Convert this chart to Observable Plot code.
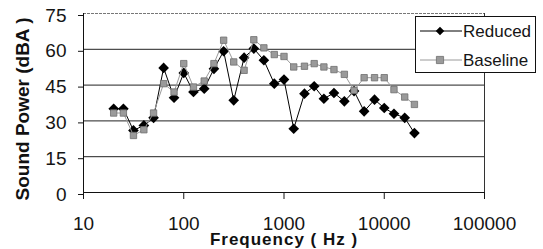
<!DOCTYPE html>
<html>
<head>
<meta charset="utf-8">
<script src="https://cdn.jsdelivr.net/npm/d3@7"></script>
<script src="https://cdn.jsdelivr.net/npm/@observablehq/plot@0.6"></script>
<style>
  html, body { margin: 0; padding: 0; background: #fff; }
  #wrap { position: relative; width: 543px; height: 249px; font-family: "Liberation Sans", Arial, sans-serif; }
  #legend { position: absolute; left: 415px; top: 16px; }
</style>
</head>
<body>
<div id="wrap"></div>
<script>
const freq = [20,25,31.5,40,50,63,80,100,125,160,200,250,315,400,500,630,800,1000,1250,1600,2000,2500,3150,4000,5000,6300,8000,10000,12500,16000,20000];
const reduced = [35.1,35.1,26,28.1,31.3,52.2,39.7,50.1,42.1,43.5,51.8,59.2,38.6,56.5,60.3,55.4,45.6,47.3,26.7,41.4,44.5,39.3,41.7,38.2,42.5,34,38.9,35.4,33,31.3,24.9];
const baseline = [33.3,33.3,23.9,26.3,33.3,45.6,42.1,54,44.2,46.7,54,63.8,54.7,51.2,64,60.6,57.8,57,52.6,52.9,54,52.6,51.5,49.5,42.8,48.1,48.1,48.1,43.1,40,36.9];
const xTicks = [10,100,1000,10000,100000];
const yTicks = [0,15,30,45,60,75];
const seriesNames = ["Reduced","Baseline"];
const xTitle = "Frequency ( Hz )";
const yTitle = "Sound Power (dBA )";

const redData = freq.map((f,i) => ({f, v: reduced[i]}));
const baseData = freq.map((f,i) => ({f, v: baseline[i]}));

const chart = Plot.plot({
  width: 543, height: 249,
  marginLeft: 83, marginRight: 59, marginTop: 13, marginBottom: 57,
  style: {fontFamily: "'Liberation Sans', Arial, sans-serif", fontSize: "19px", color: "#151515", background: "transparent"},
  x: {type: "log", domain: [10, 100000]},
  y: {domain: [0, 75]},
  marks: [
    Plot.ruleY(yTicks.filter(d => d > 0 && d < 75), {stroke: "#222", strokeWidth: 1}),
    Plot.ruleY([75], {stroke: "#777", strokeDasharray: "3,1"}),
    Plot.ruleX([100000], {stroke: "#333"}),
    Plot.ruleX([10], {stroke: "#111"}),
    Plot.ruleY([0], {stroke: "#111"}),
    Plot.axisX({ticks: xTicks, tickFormat: d => String(d), tickSize: 7, tickPadding: 17, label: null}),
    Plot.axisY({ticks: yTicks, tickSize: 5, tickPadding: 12, label: null, dy: 2}),
    Plot.line(redData, {x: "f", y: "v", stroke: "#000", strokeWidth: 1}),
    Plot.dot(redData, {x: "f", y: "v", symbol: "diamond2", r: 4.8, fill: "#000", stroke: "none"}),
    Plot.line(baseData, {x: "f", y: "v", stroke: "#9a9a9a", strokeWidth: 1}),
    Plot.dot(baseData, {x: "f", y: "v", symbol: "square", r: 3.6, fill: "#9a9a9a", stroke: "#6e6e6e", strokeWidth: 0.8}),
    Plot.text([xTitle], {frameAnchor: "bottom", textAnchor: "middle", lineAnchor: "middle", dy: 47, fontWeight: "bold", fontSize: 17, fill: "#111", className: "xtitle"}),
    Plot.text([yTitle], {frameAnchor: "left", textAnchor: "middle", lineAnchor: "middle", dx: -61, dy: 6, rotate: -90, fontWeight: "bold", fontSize: 19, fill: "#111"})
  ]
});
d3.select(chart).selectAll(".xtitle text").style("letter-spacing", "1px");
document.getElementById("wrap").appendChild(chart);

// Legend
const lg = d3.select("#wrap").append("svg").attr("id", "legend").attr("width", 122).attr("height", 58);
lg.append("rect").attr("x", 0.5).attr("y", 0.5).attr("width", 120).attr("height", 56).attr("fill", "#fff").attr("stroke", "#111");
const rows = [
  {name: seriesNames[0], y: 15, stroke: "#000", sym: d3.symbolDiamond2, size: 46, fill: "#000", sstroke: "none"},
  {name: seriesNames[1], y: 44, stroke: "#9a9a9a", sym: d3.symbolSquare, size: 52, fill: "#9a9a9a", sstroke: "#6e6e6e"}
];
rows.forEach(r => {
  lg.append("line").attr("x1", 5).attr("x2", 47).attr("y1", r.y).attr("y2", r.y).attr("stroke", r.stroke);
  lg.append("path").attr("d", d3.symbol(r.sym, r.size)()).attr("transform", `translate(25,${r.y})`).attr("fill", r.fill).attr("stroke", r.sstroke).attr("stroke-width", 0.8);
  lg.append("text").attr("x", 48).attr("y", r.y).attr("dy", "0.35em").attr("font-size", 17).attr("fill", "#151515")
    .attr("font-family", "'Liberation Sans', Arial, sans-serif").text(r.name);
});
</script>
</body>
</html>
